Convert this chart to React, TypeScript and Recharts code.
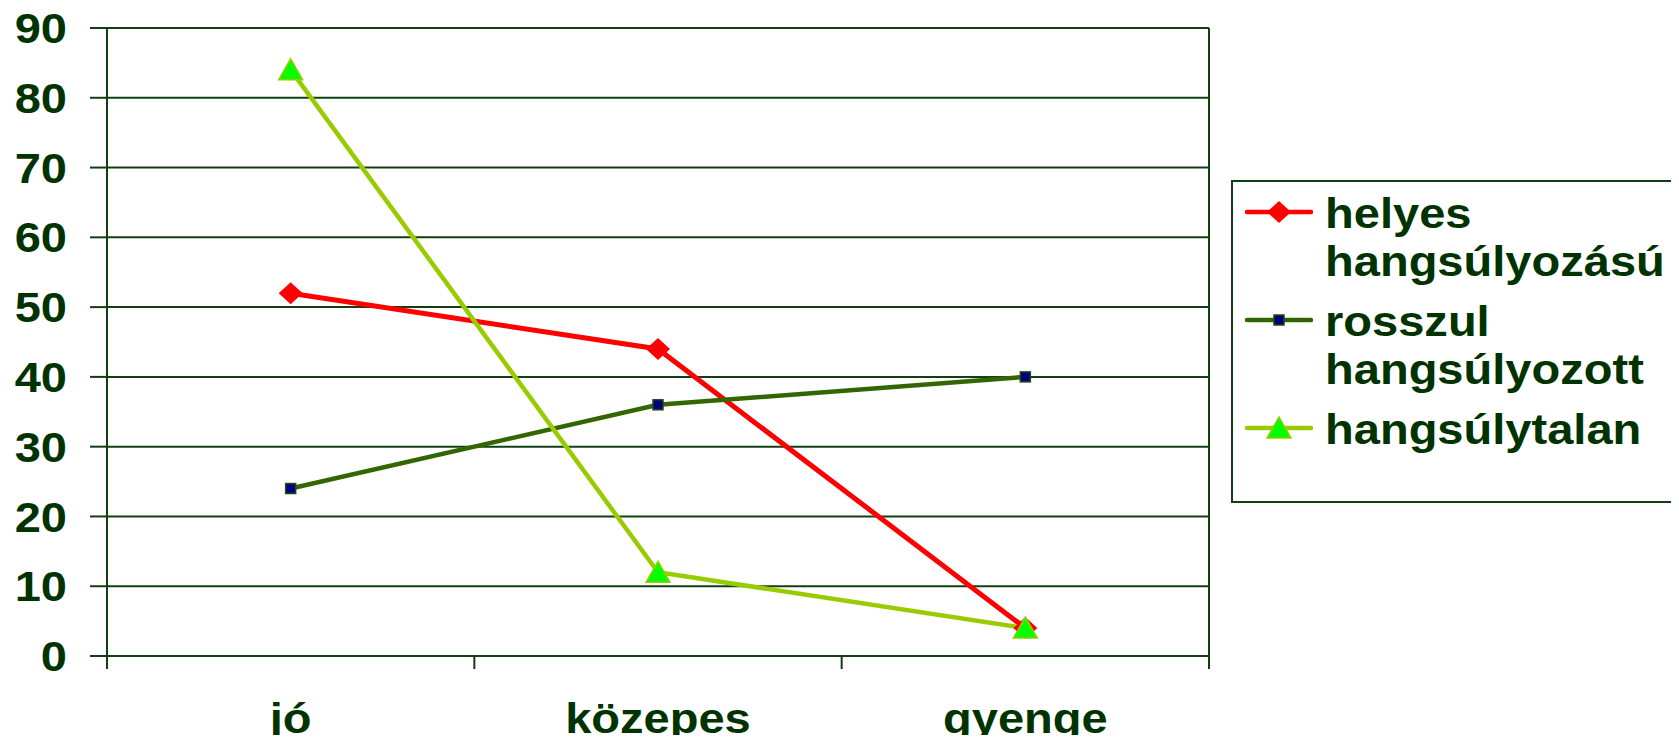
import { LineChart, Line, XAxis, YAxis, CartesianGrid, ReferenceLine } from 'recharts'

const categories = ['jó', 'közepes', 'gyenge']
const helyes = [52, 44, 4]
const rosszul = [24, 36, 40]
const hangsulytalan = [84, 12, 4]
const yTicks = [0, 10, 20, 30, 40, 50, 60, 70, 80, 90]

const INK = '#003300'
const GRID = '#113f11'
const FONT = '"Liberation Sans", Arial, sans-serif'
const FONT_SIZE = 42
const STRETCH = 1.12

// x sits in the middle of each category band (band i spans i..i+1)
const data = categories.map((name, i) => ({
  x: i + 0.5,
  name,
  helyes: helyes[i],
  rosszul: rosszul[i],
  hangsulytalan: hangsulytalan[i],
}))

const xTicks = [0, 0.5, 1, 1.5, 2, 2.5, 3]

function Diamond({ cx, cy }: { cx: number; cy: number }) {
  return <polygon points={`${cx - 12},${cy} ${cx},${cy - 11} ${cx + 12},${cy} ${cx},${cy + 11}`} fill="#ff0000" />
}

function Square({ cx, cy }: { cx: number; cy: number }) {
  return <rect x={cx - 5} y={cy - 5} width={10} height={10} fill="#000080" stroke="#1f4a10" strokeWidth={1.5} />
}

function Triangle({ cx, cy }: { cx: number; cy: number }) {
  return (
    <polygon
      points={`${cx - 12},${cy + 10} ${cx},${cy - 11} ${cx + 12},${cy + 10}`}
      fill="#00ff00"
      stroke="#99cc00"
      strokeWidth={1.5}
    />
  )
}

const series = [
  { key: 'helyes', name: 'helyes hangsúlyozású', color: '#ff0000', width: 5, Marker: Diamond },
  { key: 'rosszul', name: 'rosszul hangsúlyozott', color: '#336600', width: 4.5, Marker: Square },
  { key: 'hangsulytalan', name: 'hangsúlytalan', color: '#99cc00', width: 4.5, Marker: Triangle },
]

function YTick(props: any) {
  const { x, y, payload } = props
  return (
    <text
      x={x}
      y={y}
      dy="0.36em"
      textAnchor="end"
      fill={INK}
      fontSize={FONT_SIZE}
      fontWeight="bold"
      fontFamily={FONT}
      transform={`translate(${x},${y}) scale(${STRETCH},1) translate(${-x},${-y})`}
    >
      {payload.value}
    </text>
  )
}

function XTick(props: any) {
  const { x, y, payload } = props
  const v = payload.value as number
  if (Number.isInteger(v)) {
    return <line x1={x} x2={x} y1={y} y2={y + 13} stroke={GRID} strokeWidth={2} />
  }
  const ty = y + 77
  return (
    <text
      x={x}
      y={ty}
      textAnchor="middle"
      fill={INK}
      fontSize={FONT_SIZE}
      fontWeight="bold"
      fontFamily={FONT}
      transform={`translate(${x},${ty}) scale(${STRETCH},1) translate(${-x},${-ty})`}
    >
      {categories[Math.floor(v)]}
    </text>
  )
}

function LegendBox() {
  return (
    <div
      style={{
        position: 'absolute',
        left: 1231,
        top: 180,
        width: 448,
        height: 323,
        boxSizing: 'border-box',
        border: `2px solid ${GRID}`,
        background: '#fff',
        padding: '8px 0 0 12px',
        fontFamily: FONT,
        fontWeight: 'bold',
        fontSize: FONT_SIZE,
        lineHeight: '48px',
        color: INK,
      }}
    >
      {series.map((s, i) => (
        <div key={s.key} style={{ display: 'flex', alignItems: 'flex-start', marginTop: i === 0 ? 0 : 12 }}>
          <svg width={68} height={44} style={{ flex: 'none' }}>
            <line x1={2} x2={66} y1={22} y2={22} stroke={s.color} strokeWidth={4.5} strokeLinecap="round" />
            <s.Marker cx={34} cy={22} />
          </svg>
          <div style={{ marginLeft: 12, transform: `scaleX(${STRETCH})`, transformOrigin: 'left', whiteSpace: 'nowrap' }}>
            {s.name.split(' ').map((w) => (
              <div key={w}>{w}</div>
            ))}
          </div>
        </div>
      ))}
    </div>
  )
}

export default function App() {
  return (
    <div style={{ position: 'relative', width: 1679, height: 743, margin: -8, background: '#fff', overflow: 'hidden' }}>
      <LineChart width={1679} height={743} data={data} margin={{ top: 28, right: 470, bottom: 0, left: 0 }}>
        <CartesianGrid vertical={false} stroke={GRID} strokeWidth={2} />
        <XAxis
          type="number"
          dataKey="x"
          domain={[0, 3]}
          ticks={xTicks}
          interval={0}
          tick={XTick}
          tickLine={false}
          axisLine={false}
          tickSize={0}
          tickMargin={0}
          height={87}
        />
        <YAxis
          domain={[0, 90]}
          ticks={yTicks}
          interval={0}
          width={107}
          tickSize={17}
          tickMargin={23}
          tick={YTick}
          tickLine={{ stroke: GRID, strokeWidth: 2 }}
          axisLine={{ stroke: GRID, strokeWidth: 2 }}
        />
        <ReferenceLine x={3} stroke={GRID} strokeWidth={2} />
        {series.map((s) => (
          <Line
            key={s.key}
            dataKey={s.key}
            name={s.name}
            stroke={s.color}
            strokeWidth={s.width}
            isAnimationActive={false}
            activeDot={false}
            dot={(p: any) => <s.Marker key={`${s.key}-${p.index}`} cx={p.cx} cy={p.cy} />}
          />
        ))}
      </LineChart>
      <LegendBox />
    </div>
  )
}
